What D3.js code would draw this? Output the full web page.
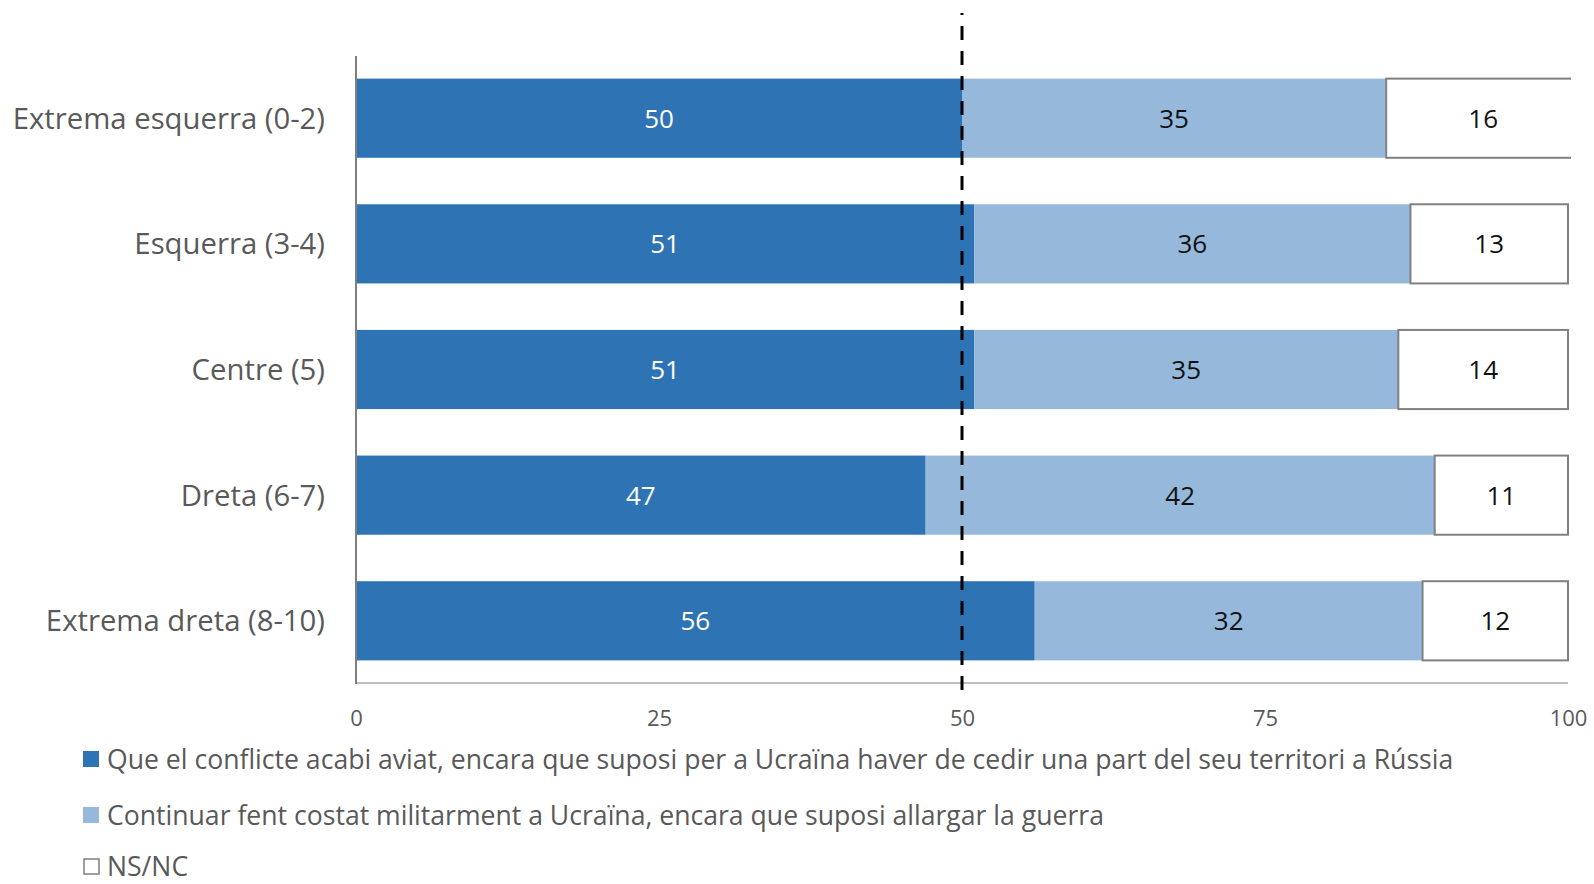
<!DOCTYPE html>
<html><head><meta charset="utf-8">
<script src="https://cdn.jsdelivr.net/npm/d3@7"></script>
<style>body{margin:0;background:#fff}svg{display:block;font-family:"Open Sans",sans-serif}</style>
</head><body><svg id="c" width="1594" height="884"></svg>
<script>
const categories = ["Extrema esquerra (0-2)", "Esquerra (3-4)", "Centre (5)", "Dreta (6-7)", "Extrema dreta (8-10)"];
const seriesNames = ["Que el conflicte acabi aviat, encara que suposi per a Ucraïna haver de cedir una part del seu territori a Rússia",
  "Continuar fent costat militarment a Ucraïna, encara que suposi allargar la guerra",
  "NS/NC"];
const acabi = [50, 51, 51, 47, 56];
const continuar = [35, 36, 35, 42, 32];
const nsnc = [16, 13, 14, 11, 12];
const xTicks = [0, 25, 50, 75, 100];
const refValue = 50;

const colors = ["#2E74B5", "#96B9DB", "#FFFFFF"];
const labelColors = ["#FFFFFF", "#111111", "#111111"];
const svg = d3.select("#c");
const x = d3.scaleLinear().domain([0, 100]).range([356, 1568]);
const y = d3.scaleBand().domain(categories).range([56, 683]).paddingInner(0.37).paddingOuter(0.18);

const rows = categories.map((c, i) => [acabi[i], continuar[i], nsnc[i]]);
const segs = [];
rows.forEach((r, i) => { let s = 0; r.forEach((v, k) => { segs.push({cat: categories[i], k, v, x0: s, x1: s + v}); s += v; }); });

svg.append("clipPath").attr("id", "clip").append("rect")
  .attr("x", 350).attr("y", 0).attr("width", x(100) - 350 + 3).attr("height", 884);

const g = svg.append("g").attr("clip-path", "url(#clip)");
g.selectAll("rect.seg").data(segs).join("rect").attr("class", "seg")
  .attr("x", d => x(d.x0)).attr("y", d => y(d.cat))
  .attr("width", d => x(d.x1) - x(d.x0)).attr("height", y.bandwidth())
  .attr("fill", d => colors[d.k])
  .attr("stroke", d => d.k === 2 ? "#808080" : "none").attr("stroke-width", 2);

svg.selectAll("text.val").data(segs).join("text").attr("class", "val")
  .attr("x", d => (x(d.x0) + x(d.x1)) / 2)
  .attr("y", d => y(d.cat) + y.bandwidth() / 2)
  .attr("dy", "0.36em").attr("text-anchor", "middle")
  .attr("font-size", 26).attr("fill", d => labelColors[d.k]).text(d => d.v);

// axes
svg.append("line").attr("x1", x(0)).attr("x2", x(100)).attr("y1", 683).attr("y2", 683)
  .attr("stroke", "#BFBFBF").attr("stroke-width", 2);
svg.append("line").attr("x1", x(0)).attr("x2", x(0)).attr("y1", 56).attr("y2", 684)
  .attr("stroke", "#7F7F7F").attr("stroke-width", 2);

const xAxis = d3.axisBottom(x).tickValues(xTicks).tickSize(0).tickPadding(0);
const ax = svg.append("g").attr("transform", "translate(0,683)").call(xAxis);
ax.select(".domain").remove();
ax.selectAll("text").attr("font-size", 22).attr("fill", "#595959").attr("dy", "0").attr("y", 43)
  .attr("font-family", "Open Sans");

const yAxis = d3.axisLeft(y).tickSize(0).tickPadding(0);
const ay = svg.append("g").attr("transform", "translate(325,0)").call(yAxis);
ay.select(".domain").remove();
ay.selectAll("text").attr("font-size", 29.3).attr("fill", "#595959").attr("font-family", "Open Sans").attr("dy", "0.36em");

// reference line
svg.append("line").attr("x1", x(refValue)).attr("x2", x(refValue)).attr("y1", 13).attr("y2", 694)
  .attr("stroke", "#000").attr("stroke-width", 3).attr("stroke-dasharray", "14,11").attr("stroke-dashoffset", 12);

// legend
const leg = svg.append("g");
const ly = [759, 815, 866];
seriesNames.forEach((n, i) => {
  leg.append("rect").attr("x", i === 2 ? 84 : 83).attr("y", ly[i] - 8 + (i === 2 ? 1 : 0))
    .attr("width", i === 2 ? 15 : 16).attr("height", i === 2 ? 15 : 16)
    .attr("fill", colors[i]).attr("stroke", i === 2 ? "#7F7F7F" : "none").attr("stroke-width", 1.5);
  leg.append("text").attr("x", 107).attr("y", ly[i]).attr("dy", "0.36em")
    .attr("font-size", 26.6).attr("fill", "#595959").text(n);
});
</script></body></html>
